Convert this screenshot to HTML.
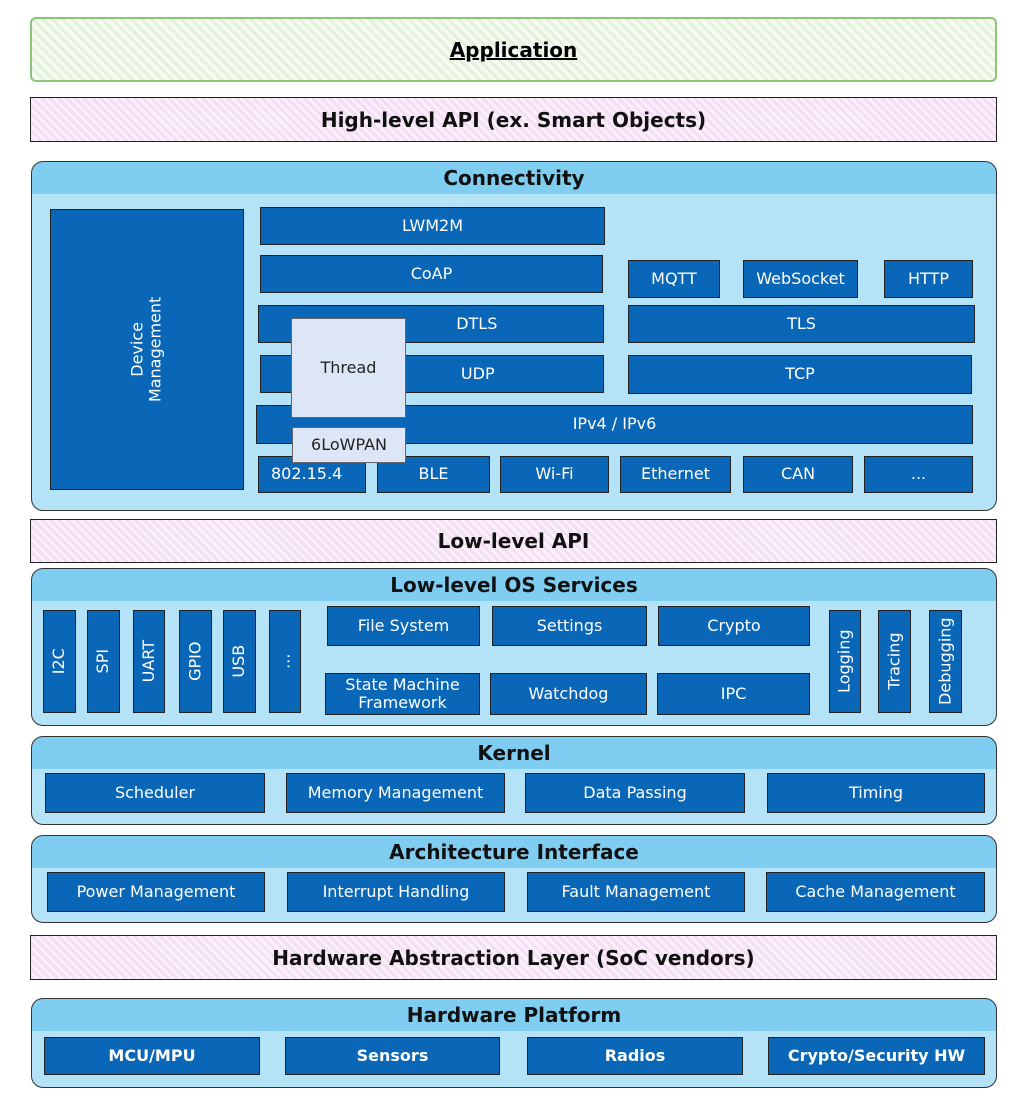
<!DOCTYPE html><html><head><style>
body{margin:0;width:1026px;height:1106px;background:#fff;position:relative;font-family:"DejaVu Sans","Liberation Sans",sans-serif;overflow:hidden}
div{position:absolute;box-sizing:border-box}
.c{background:linear-gradient(#7fcdf1 0,#7fcdf1 32px,#b4e2f6 32px);border:1.5px solid #333;border-radius:12px;left:31px;width:966px}
.h{left:0;right:0;top:4px;text-align:center;font-weight:bold;font-size:20px;color:#111}
.b{background:#0a66b6;border:1.5px solid #222;color:#fff;font-size:16px;display:flex;align-items:center;justify-content:center;text-align:center;line-height:1.15}
.v span{transform:rotate(-90deg);white-space:nowrap;display:block}
.p{left:30px;width:967px;border:1.5px solid #222;background:repeating-linear-gradient(45deg,#f3dff3 0 3px,#fbeffb 3px 6px);text-align:center;font-weight:bold;font-size:20px;color:#111;display:flex;align-items:center;justify-content:center}
</style></head><body>
<div style="left:30px;top:17px;width:967px;height:65px;border:2px solid #8cc47a;border-radius:6px;background:repeating-linear-gradient(45deg,#e4f2dc 0 3px,#f6fbf2 3px 7px);display:flex;align-items:center;justify-content:center;font-weight:bold;font-size:20px;text-decoration:underline">Application</div>
<div class="p" style="top:97px;height:45px">High-level API (ex. Smart Objects)</div>

<div class="c" style="top:161px;height:350px"><div class="h">Connectivity</div></div>
<div class="b v" style="left:50px;top:209px;width:194px;height:281px"><span>Device<br>Management</span></div>
<div class="b" style="left:260px;top:207px;width:345px;height:38px">LWM2M</div>
<div class="b" style="left:260px;top:255px;width:343px;height:38px">CoAP</div>
<div class="b" style="left:258px;top:305px;width:346px;height:38px">&nbsp;&nbsp;&nbsp;&nbsp;&nbsp;&nbsp;&nbsp;&nbsp;&nbsp;&nbsp;&nbsp;&nbsp;&nbsp;&nbsp;&nbsp;&nbsp;&nbsp;&nbsp;DTLS</div>
<div class="b" style="left:260px;top:355px;width:344px;height:38px">&nbsp;&nbsp;&nbsp;&nbsp;&nbsp;&nbsp;&nbsp;&nbsp;&nbsp;&nbsp;&nbsp;&nbsp;&nbsp;&nbsp;&nbsp;&nbsp;&nbsp;&nbsp;UDP</div>
<div class="b" style="left:628px;top:260px;width:92px;height:38px">MQTT</div>
<div class="b" style="left:743px;top:260px;width:115px;height:38px">WebSocket</div>
<div class="b" style="left:884px;top:260px;width:89px;height:38px">HTTP</div>
<div class="b" style="left:628px;top:305px;width:347px;height:38px">TLS</div>
<div class="b" style="left:628px;top:355px;width:344px;height:39px">TCP</div>
<div class="b" style="left:256px;top:405px;width:717px;height:39px">IPv4 / IPv6</div>
<div class="b" style="left:258px;top:456px;width:108px;height:37px;justify-content:flex-start;padding-left:12px">802.15.4</div>
<div class="b" style="left:377px;top:456px;width:113px;height:37px">BLE</div>
<div class="b" style="left:500px;top:456px;width:109px;height:37px">Wi-Fi</div>
<div class="b" style="left:620px;top:456px;width:111px;height:37px">Ethernet</div>
<div class="b" style="left:743px;top:456px;width:110px;height:37px">CAN</div>
<div class="b" style="left:864px;top:456px;width:109px;height:37px">...</div>
<div class="b" style="left:291px;top:318px;width:115px;height:100px;background:#dde6f7;color:#222;border-color:#666">Thread</div>
<div class="b" style="left:292px;top:427px;width:114px;height:36px;background:#dde6f7;color:#222;border-color:#666">6LoWPAN</div>

<div class="p" style="top:519px;height:44px">Low-level API</div>

<div class="c" style="top:568px;height:158px"><div class="h">Low-level OS Services</div></div>
<div class="b v" style="left:43px;top:610px;width:33px;height:103px"><span>I2C</span></div>
<div class="b v" style="left:87px;top:610px;width:33px;height:103px"><span>SPI</span></div>
<div class="b v" style="left:133px;top:610px;width:32px;height:103px"><span>UART</span></div>
<div class="b v" style="left:179px;top:610px;width:33px;height:103px"><span>GPIO</span></div>
<div class="b v" style="left:223px;top:610px;width:33px;height:103px"><span>USB</span></div>
<div class="b v" style="left:269px;top:610px;width:32px;height:103px"><span>...</span></div>
<div class="b" style="left:327px;top:606px;width:153px;height:40px">File System</div>
<div class="b" style="left:492px;top:606px;width:155px;height:40px">Settings</div>
<div class="b" style="left:658px;top:606px;width:152px;height:40px">Crypto</div>
<div class="b" style="left:325px;top:673px;width:155px;height:42px">State Machine<br>Framework</div>
<div class="b" style="left:490px;top:673px;width:157px;height:42px">Watchdog</div>
<div class="b" style="left:657px;top:673px;width:153px;height:42px">IPC</div>
<div class="b v" style="left:829px;top:610px;width:32px;height:103px"><span>Logging</span></div>
<div class="b v" style="left:878px;top:610px;width:33px;height:103px"><span>Tracing</span></div>
<div class="b v" style="left:929px;top:610px;width:33px;height:103px"><span>Debugging</span></div>

<div class="c" style="top:736px;height:89px"><div class="h">Kernel</div></div>
<div class="b" style="left:45px;top:773px;width:220px;height:40px">Scheduler</div>
<div class="b" style="left:286px;top:773px;width:219px;height:40px">Memory Management</div>
<div class="b" style="left:525px;top:773px;width:220px;height:40px">Data Passing</div>
<div class="b" style="left:767px;top:773px;width:218px;height:40px">Timing</div>

<div class="c" style="top:835px;height:88px"><div class="h">Architecture Interface</div></div>
<div class="b" style="left:47px;top:872px;width:218px;height:40px">Power Management</div>
<div class="b" style="left:287px;top:872px;width:218px;height:40px">Interrupt Handling</div>
<div class="b" style="left:527px;top:872px;width:218px;height:40px">Fault Management</div>
<div class="b" style="left:766px;top:872px;width:219px;height:40px">Cache Management</div>

<div class="p" style="top:935px;height:45px">Hardware Abstraction Layer (SoC vendors)</div>

<div class="c" style="top:998px;height:90px"><div class="h">Hardware Platform</div></div>
<div class="b" style="left:44px;top:1037px;width:216px;height:38px;font-weight:bold">MCU/MPU</div>
<div class="b" style="left:285px;top:1037px;width:215px;height:38px;font-weight:bold">Sensors</div>
<div class="b" style="left:527px;top:1037px;width:216px;height:38px;font-weight:bold">Radios</div>
<div class="b" style="left:768px;top:1037px;width:217px;height:38px;font-weight:bold">Crypto/Security HW</div>
</body></html>
